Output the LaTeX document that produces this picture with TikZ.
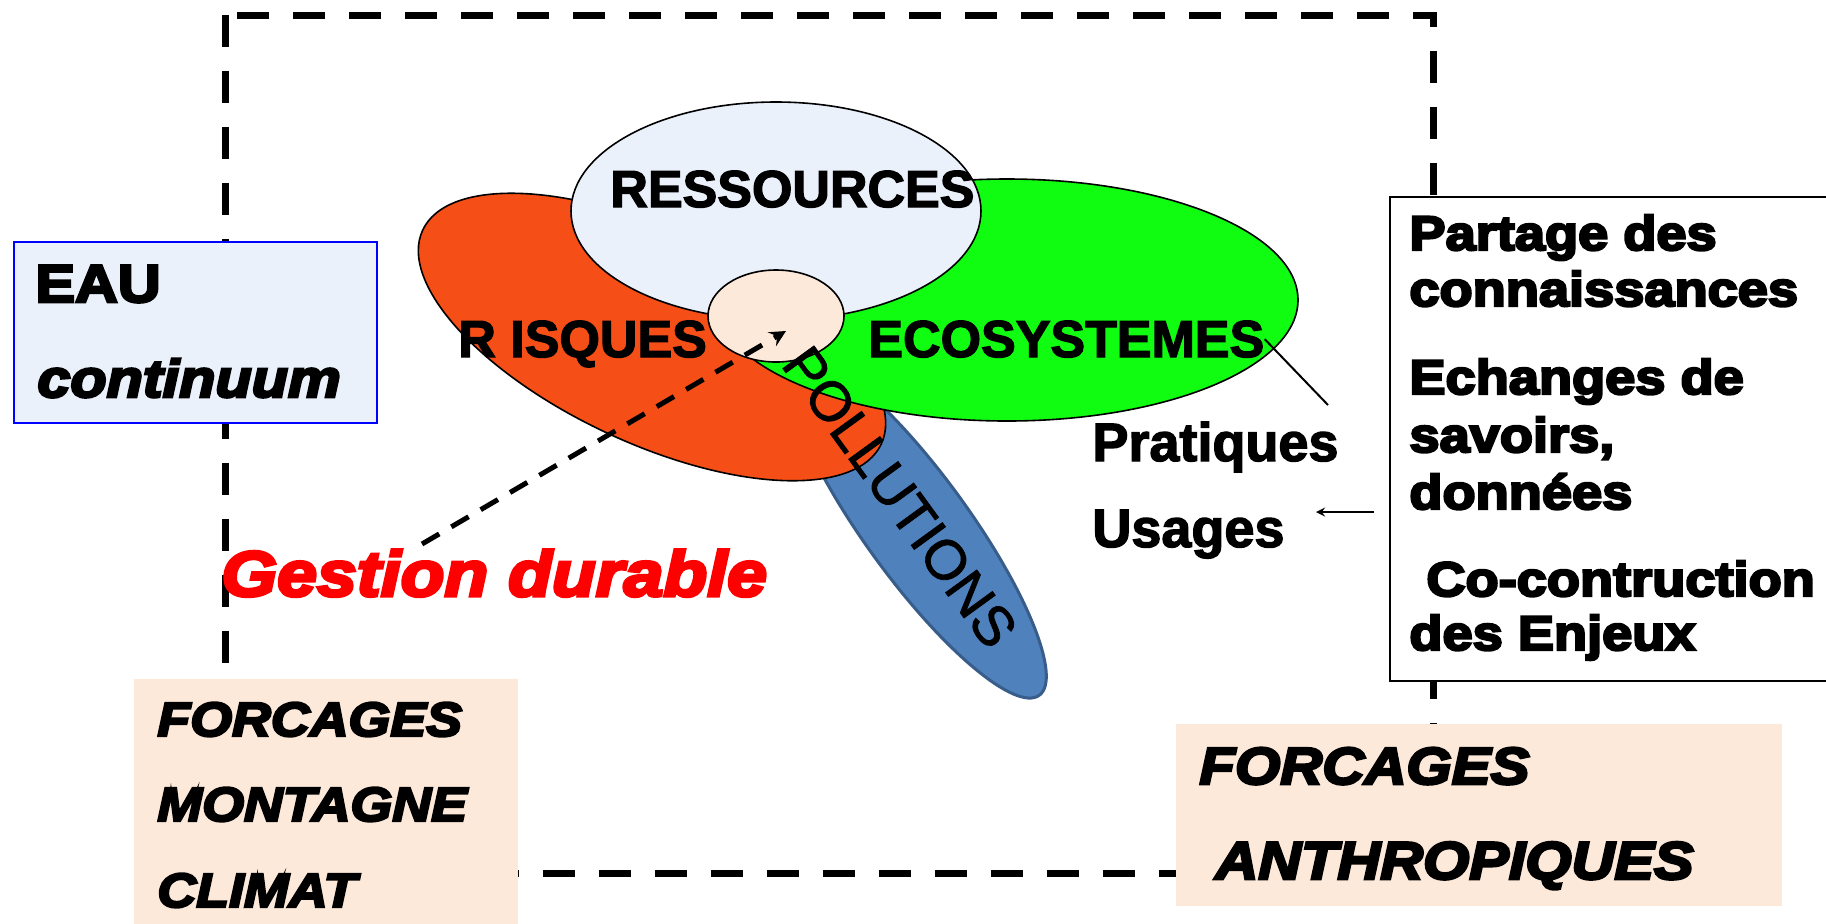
\documentclass[tikz,border=0pt]{standalone}
\usepackage{fontspec}
\setmainfont{Liberation Sans}
\newfontfamily\heavyfont{Liberation Sans}[UprightFont=* Bold, ItalicFont=* Bold Italic, FakeBold=5, FakeStretch=1.12]
\newfontfamily\plainbold{Liberation Sans}[UprightFont=* Bold, FakeBold=2.5]
\newfontfamily\plainfont{Liberation Sans}[FakeBold=1.5]
\usepackage{tikz}
\usetikzlibrary{shapes.geometric, arrows}
\definecolor{riskred}{RGB}{245,78,23}
\definecolor{ecogreen}{RGB}{16,252,16}
\definecolor{resblue}{RGB}{235,241,250}
\definecolor{beige}{RGB}{253,233,218}
\definecolor{pollblue}{RGB}{79,129,189}
\definecolor{pollborder}{RGB}{56,93,138}
\newcommand{\heavysize}[1]{\heavyfont\fontsize{#1}{#1}\selectfont}
\newcommand{\heavyslant}[1]{\heavyfont\itshape\fontsize{#1}{#1}\selectfont}
\newcommand{\boldsize}[1]{\plainbold\fontsize{#1}{#1}\selectfont}
\tikzstyle{arrow} = [->,>=stealth]
\tikzstyle{frame} = [line width=3.5pt, dash pattern=on 16pt off 12pt]
\tikzstyle{blob} = [ellipse, draw=black, line width=0.8pt, inner sep=0pt]
\tikzstyle{panel} = [rectangle, anchor=north west, inner sep=0pt]
\tikzstyle{word} = [inner sep=0pt, anchor=base west]

\begin{document}
\begin{tikzpicture}[x=0.5pt,y=-0.5pt]
\useasboundingbox (0,0) rectangle (1826,923);

\draw[frame] (225,15) rectangle (1433,873);

\node[panel, draw=blue, line width=1pt, fill=resblue, minimum width=181.5pt, minimum height=90.5pt] (eau) at (13,241) {};
\node[word, font=\heavysize{26.5}] (eauword) at (35,302) {EAU};
\node[word, font=\heavyslant{26.5}] (cont) at (37,397) {continuum};

\node[panel, fill=beige, minimum width=192pt, minimum height=125pt] (mont) at (134,679) {};
\foreach \t/\y [count=\i] in {FORCAGES/736, MONTAGNE/821, CLIMAT/907}
  \node[word, font=\heavyslant{24}] (m\i) at (157,\y) {\t};

\node[panel, fill=beige, minimum width=303pt, minimum height=91pt] (anth) at (1176,724) {};
\node[word, font=\heavyslant{26}] (a1) at (1199,784) {FORCAGES};
\node[word, font=\heavyslant{26.5}] (a2) at (1215,879) {ANTHROPIQUES};

\node[panel, draw=black, line width=1.2pt, fill=white, minimum width=222pt, minimum height=242pt] (know) at (1389,196) {};
\foreach \t/\y [count=\i] in {Partage des/250, connaissances/306, Echanges de/394, {savoirs,}/452, données/509, des Enjeux/650}
  \node[word, font=\heavysize{24.2}] (k\i) at (1409,\y) {\t};
\node[word, font=\heavysize{24.2}] (k7) at (1426,596) {Co-contruction};

\node[blob, draw=pollborder, line width=1.5pt, fill=pollblue, minimum width=208pt, minimum height=52pt, rotate=-54] (poll) at (917,527) {};
\node[blob, fill=riskred, minimum width=253pt, minimum height=106pt, rotate=-25] (risk) at (652,337) {};
\node[blob, fill=ecogreen, minimum width=291pt, minimum height=121pt] (eco) at (1007,300) {};
\node[blob, fill=resblue, minimum width=205pt, minimum height=109pt] (res) at (776,211) {};
\node[blob, fill=beige, minimum width=68pt, minimum height=46pt] (core) at (776,316) {};

\node[word, font=\boldsize{26}] (restxt) at (610,207) {RESSOURCES};
\node[word, font=\boldsize{26}] (risktxt) at (458,357) {R ISQUES};
\node[word, font=\boldsize{26}] (ecotxt) at (868,357) {ECOSYSTEMES};
\node[inner sep=0pt, font=\plainfont\fontsize{28}{28}\selectfont, rotate=-54] (polltxt) at (900,497) {POLLUTIONS};
\node[word, font=\boldsize{27}] (prat) at (1092,461) {Pratiques};
\node[word, font=\boldsize{27}] (usg) at (1092,547) {Usages};
\node[word, text=red, font=\heavyslant{32}] (gest) at (221,596) {Gestion durable};

\coordinate (gtail) at (422,544);
\coordinate (gtip) at (786,331);
\coordinate (lnk) at (1328,405);
\coordinate (ua1) at (1374,512);
\coordinate (ua2) at (1316,512);

\draw[arrow, line width=2.5pt, dash pattern=on 10pt off 7pt] (gtail) -- (gtip);
\draw[line width=1pt] (ecotxt.east) -- (lnk);
\draw[arrow, line width=1pt] (ua1) -- (ua2);
\end{tikzpicture}
\end{document}
